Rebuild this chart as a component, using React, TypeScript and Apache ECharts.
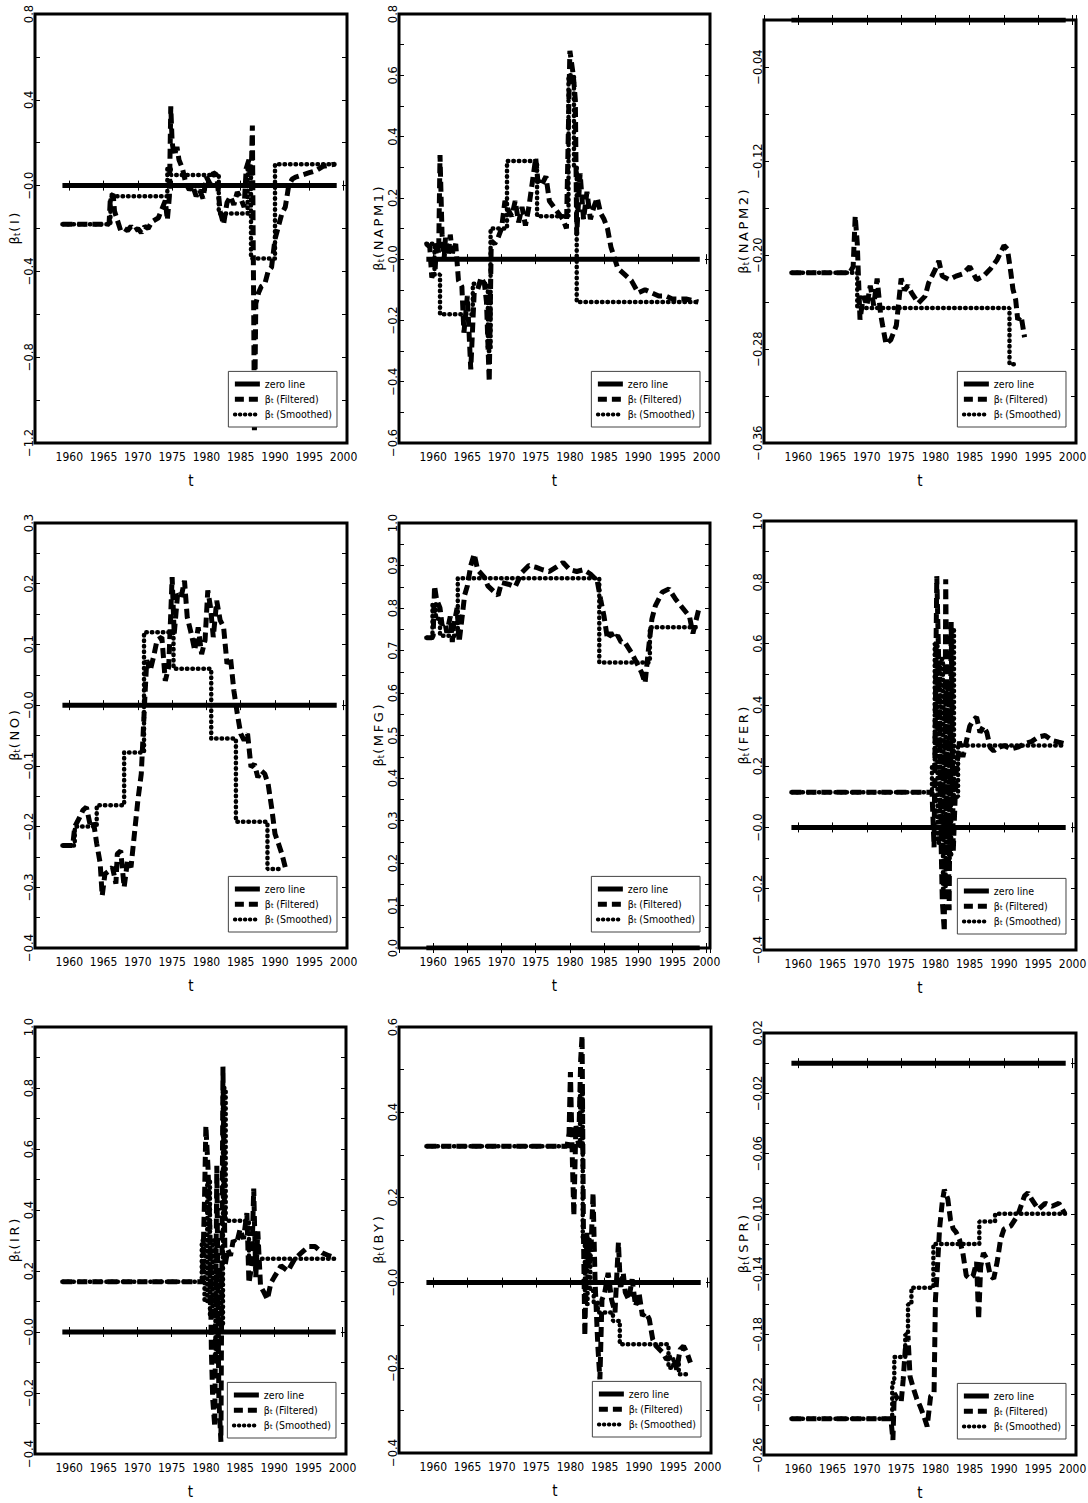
import React, { useEffect, useRef } from "react";
import * as echarts from "echarts";

// ---------------- data ----------------
const zeroLine = [[1959, 0], [1999, 0]];
const xTickLabels = [1960, 1965, 1970, 1975, 1980, 1985, 1990, 1995, 2000];

const filteredI = [[1959,-0.18],[1965.8,-0.18],[1966,-0.05],[1966.4,-0.04],[1966.6,-0.12],[1967,-0.16],[1967.5,-0.21],[1968,-0.2],[1968.5,-0.21],[1969,-0.19],[1969.5,-0.21],[1970,-0.2],[1970.5,-0.22],[1971,-0.19],[1971.5,-0.2],[1972,-0.17],[1972.5,-0.16],[1973,-0.15],[1973.5,-0.11],[1974,-0.07],[1974.3,-0.16],[1974.6,-0.05],[1974.8,0.37],[1975,0.2],[1975.3,0.14],[1975.7,0.18],[1976,0.12],[1976.5,0.08],[1977,0.01],[1977.5,-0.02],[1978,0.0],[1978.5,-0.05],[1979,-0.02],[1979.5,-0.06],[1980,0.04],[1980.5,0.01],[1981,0.06],[1981.5,0.05],[1982,-0.12],[1982.5,-0.18],[1983,-0.08],[1983.5,-0.05],[1984,-0.09],[1984.5,-0.03],[1985,-0.06],[1985.5,-0.1],[1985.8,0.08],[1986.2,0.12],[1986.5,0.0],[1986.7,0.28],[1986.9,-0.6],[1987,-1.15],[1987.2,-0.55],[1987.6,-0.5],[1988,-0.47],[1988.5,-0.46],[1989,-0.4],[1989.5,-0.38],[1990,-0.25],[1990.5,-0.19],[1991,-0.13],[1991.5,-0.1],[1992,0.0],[1992.5,0.03],[1993,0.04],[1994,0.05],[1995,0.06],[1996,0.07],[1997,0.09],[1998.8,0.1]];
const smoothedI = [[1959,-0.18],[1966,-0.05],[1974.3,0.08],[1974.8,0.05],[1981.8,-0.13],[1986,0.1],[1986.5,-0.34],[1990,0.1],[1998.8,0.1]];

const filteredNAPM1 = [[1959,0.05],[1959.5,0.04],[1959.8,-0.06],[1960.3,-0.03],[1960.5,0.06],[1960.8,0.02],[1961,0.34],[1961.3,0.08],[1961.6,0.0],[1961.8,0.07],[1962.2,0.01],[1962.5,0.08],[1962.8,0.02],[1963.3,0.05],[1963.7,-0.07],[1964.2,-0.09],[1964.5,-0.24],[1965,-0.12],[1965.5,-0.36],[1966,-0.11],[1966.5,-0.1],[1967,-0.06],[1967.5,-0.08],[1967.8,-0.14],[1968.2,-0.4],[1968.5,0.06],[1969,0.05],[1969.5,0.07],[1970,0.1],[1970.5,0.19],[1971,0.16],[1971.5,0.14],[1972,0.19],[1972.5,0.12],[1973,0.17],[1973.5,0.11],[1974,0.17],[1974.5,0.25],[1975,0.33],[1975.3,0.26],[1975.8,0.24],[1976.5,0.27],[1977,0.19],[1978,0.16],[1979,0.13],[1979.5,0.1],[1980,0.68],[1980.5,0.6],[1980.8,0.52],[1981,0.08],[1981.5,0.28],[1982,0.13],[1982.5,0.22],[1983,0.13],[1983.5,0.17],[1984,0.2],[1984.5,0.15],[1985,0.13],[1985.5,0.1],[1986,0.04],[1987,-0.03],[1988,-0.05],[1989,-0.07],[1990,-0.11],[1991,-0.1],[1992,-0.11],[1993,-0.12],[1994,-0.12],[1995,-0.13],[1997,-0.13],[1998.8,-0.14]];
const smoothedNAPM1 = [[1959,0.05],[1960.2,-0.05],[1961,-0.18],[1965.8,-0.08],[1968,-0.3],[1968.4,0.1],[1970.8,0.32],[1975.2,0.14],[1979.8,0.6],[1980.6,0.3],[1981,-0.14],[1998.8,-0.14]];

const filteredNAPM2 = [[1959,-0.215],[1967.5,-0.215],[1968,-0.21],[1968.3,-0.167],[1968.6,-0.19],[1969,-0.255],[1969.5,-0.235],[1970,-0.243],[1970.5,-0.226],[1971,-0.243],[1971.5,-0.22],[1972,-0.25],[1972.3,-0.26],[1972.8,-0.276],[1973.5,-0.272],[1974.3,-0.26],[1975,-0.22],[1975.5,-0.23],[1976,-0.226],[1976.5,-0.232],[1977.5,-0.241],[1978.5,-0.235],[1979,-0.224],[1980,-0.212],[1980.5,-0.205],[1981,-0.218],[1982,-0.221],[1983,-0.218],[1984,-0.216],[1985,-0.21],[1986,-0.221],[1987,-0.218],[1988,-0.212],[1989,-0.204],[1990,-0.192],[1990.5,-0.195],[1991,-0.215],[1991.3,-0.229],[1991.7,-0.238],[1992,-0.255],[1992.5,-0.252],[1993,-0.27]];
const smoothedNAPM2 = [[1959,-0.215],[1968.6,-0.245],[1990.8,-0.293],[1991.5,-0.293]];

const filteredNO = [[1959,-0.231],[1960.5,-0.231],[1960.8,-0.2],[1961.5,-0.185],[1962,-0.173],[1962.5,-0.168],[1963,-0.195],[1963.5,-0.19],[1964,-0.228],[1964.5,-0.26],[1964.8,-0.314],[1965.2,-0.278],[1965.8,-0.273],[1966.3,-0.267],[1966.8,-0.294],[1967,-0.245],[1967.5,-0.24],[1968,-0.3],[1968.5,-0.256],[1969,-0.267],[1969.5,-0.212],[1970,-0.157],[1970.5,-0.113],[1971,0.008],[1971.3,0.074],[1971.8,0.057],[1972.3,0.08],[1972.8,0.107],[1973.5,0.112],[1974,0.04],[1974.5,0.063],[1975,0.211],[1975.3,0.117],[1975.8,0.183],[1976.3,0.177],[1976.8,0.205],[1977.2,0.145],[1977.8,0.117],[1978.3,0.09],[1978.8,0.128],[1979.3,0.084],[1979.8,0.107],[1980.2,0.189],[1980.6,0.161],[1981,0.112],[1981.5,0.172],[1982,0.14],[1982.5,0.129],[1983,0.068],[1983.5,0.079],[1984,0.024],[1984.5,-0.014],[1985,-0.047],[1985.5,-0.058],[1986,-0.047],[1986.5,-0.102],[1987,-0.097],[1987.5,-0.119],[1988,-0.108],[1988.5,-0.113],[1989,-0.13],[1989.5,-0.168],[1990,-0.212],[1990.5,-0.228],[1991,-0.245],[1991.5,-0.267]];
const smoothedNO = [[1959,-0.231],[1960.8,-0.2],[1964,-0.165],[1968,-0.078],[1970.9,0.12],[1975.2,0.06],[1980.7,-0.055],[1984.3,-0.192],[1988.9,-0.27],[1991.2,-0.27]];

const filteredMFG = [[1959,0.73],[1959.8,0.73],[1960,0.735],[1960.2,0.852],[1960.5,0.82],[1961,0.8],[1961.3,0.76],[1961.7,0.766],[1962,0.742],[1962.5,0.78],[1962.8,0.72],[1963,0.758],[1963.5,0.8],[1963.8,0.72],[1964.2,0.774],[1964.6,0.83],[1965,0.852],[1965.5,0.9],[1966,0.927],[1966.5,0.89],[1967.5,0.872],[1968,0.852],[1969,0.837],[1969.5,0.83],[1970,0.86],[1971,0.856],[1972,0.85],[1973,0.884],[1974,0.9],[1975,0.896],[1976,0.89],[1977,0.886],[1978,0.896],[1979,0.907],[1980,0.89],[1981,0.886],[1982,0.89],[1983,0.88],[1984,0.864],[1984.5,0.82],[1985,0.78],[1985.5,0.727],[1986,0.742],[1986.5,0.727],[1987,0.735],[1987.5,0.72],[1988,0.72],[1989,0.695],[1990,0.664],[1990.5,0.648],[1991,0.624],[1991.5,0.703],[1992,0.774],[1992.5,0.805],[1993.5,0.837],[1994.5,0.845],[1995.5,0.82],[1996.5,0.8],[1997.5,0.78],[1998,0.74],[1998.5,0.774],[1998.9,0.8]];
const smoothedMFG = [[1959,0.73],[1959.9,0.81],[1960.4,0.775],[1961,0.735],[1963.6,0.87],[1984.3,0.672],[1991.7,0.755],[1998.9,0.755]];

const filteredFER = [[1959,0.115],[1979.5,0.115],[1979.8,-0.065],[1980,0.41],[1980.2,0.82],[1980.5,0.52],[1980.8,-0.02],[1981,-0.24],[1981.3,-0.34],[1981.5,0.81],[1981.7,0.31],[1982,-0.27],[1982.3,0.67],[1982.6,-0.08],[1983,0.175],[1983.5,0.28],[1984,0.23],[1984.5,0.28],[1985,0.33],[1985.5,0.35],[1986,0.36],[1986.5,0.31],[1987,0.33],[1987.5,0.31],[1988,0.26],[1988.5,0.25],[1989,0.26],[1990,0.267],[1991,0.256],[1992,0.262],[1993,0.273],[1994,0.28],[1995,0.295],[1996,0.3],[1997,0.284],[1998,0.278],[1998.9,0.273]];
const smoothedFER = [[1959,0.115],[1979.5,0.2],[1979.9,0.6],[1980.3,-0.05],[1980.7,0.55],[1981.1,-0.2],[1981.5,0.45],[1981.9,-0.1],[1982.3,0.65],[1982.7,0.1],[1983.3,0.267],[1998.9,0.267]];

const filteredIR = [[1959,0.165],[1979.5,0.165],[1979.8,0.435],[1980,0.676],[1980.3,0.545],[1980.6,0.33],[1980.8,-0.057],[1981,-0.22],[1981.3,-0.31],[1981.6,0.545],[1981.9,-0.22],[1982.2,-0.36],[1982.5,0.87],[1982.8,0.217],[1983.2,0.27],[1983.6,0.25],[1984,0.3],[1984.5,0.29],[1985,0.337],[1985.5,0.305],[1986,0.39],[1986.3,0.16],[1986.7,0.217],[1987,0.47],[1987.3,0.18],[1987.6,0.33],[1988,0.15],[1988.5,0.13],[1989,0.107],[1989.5,0.16],[1990,0.18],[1991,0.217],[1992,0.2],[1993,0.24],[1994,0.26],[1995,0.28],[1996,0.28],[1997,0.26],[1998,0.25],[1998.9,0.244]];
const smoothedIR = [[1959,0.165],[1979.4,0.3],[1979.8,0.1],[1980.2,0.5],[1980.6,0.05],[1981,0.3],[1981.4,-0.1],[1981.8,0.2],[1982.2,0.02],[1982.5,0.8],[1982.9,0.365],[1986.3,0.24],[1998.9,0.24]];

const filteredBY = [[1959,0.32],[1979.5,0.32],[1979.8,0.35],[1980,0.494],[1980.3,0.275],[1980.5,0.157],[1980.8,0.37],[1981.2,0.32],[1981.5,0.525],[1981.7,0.58],[1981.9,0.118],[1982.1,-0.125],[1982.4,0.118],[1982.7,0.04],[1983,0.08],[1983.3,0.21],[1983.6,0.0],[1984,-0.15],[1984.3,-0.227],[1984.6,-0.04],[1985,-0.024],[1985.5,0.023],[1986,-0.04],[1986.5,-0.07],[1987,0.094],[1987.3,-0.016],[1987.7,0.023],[1988,-0.023],[1988.5,-0.04],[1989,0.008],[1989.5,-0.055],[1990,-0.024],[1990.5,-0.078],[1991,-0.07],[1991.5,-0.086],[1992,-0.133],[1992.5,-0.149],[1993,-0.157],[1993.5,-0.165],[1994,-0.18],[1995,-0.173],[1995.5,-0.204],[1996,-0.157],[1996.5,-0.149],[1997,-0.165],[1997.5,-0.188]];
const smoothedBY = [[1959,0.32],[1981.4,0.45],[1981.8,0.1],[1982.1,-0.05],[1982.5,0.1],[1982.9,-0.02],[1983.4,-0.047],[1984,-0.07],[1986.2,-0.09],[1987.2,-0.145],[1994.3,-0.2],[1995,-0.18],[1995.8,-0.215],[1997.5,-0.215]];

const filteredSPR = [[1959,-0.236],[1973.5,-0.236],[1973.8,-0.25],[1974,-0.219],[1974.5,-0.223],[1975,-0.225],[1975.3,-0.21],[1975.6,-0.19],[1976,-0.181],[1976.3,-0.208],[1976.8,-0.216],[1977.3,-0.223],[1977.8,-0.228],[1978.3,-0.234],[1978.8,-0.241],[1979.3,-0.221],[1979.8,-0.219],[1980,-0.157],[1980.3,-0.135],[1980.6,-0.11],[1981,-0.092],[1981.3,-0.084],[1981.8,-0.09],[1982.2,-0.104],[1982.6,-0.11],[1983,-0.112],[1983.5,-0.117],[1984,-0.126],[1984.5,-0.141],[1985,-0.143],[1985.5,-0.141],[1986,-0.132],[1986.3,-0.17],[1986.6,-0.135],[1987,-0.126],[1987.5,-0.13],[1988,-0.141],[1988.5,-0.143],[1989,-0.132],[1989.5,-0.117],[1990,-0.11],[1991,-0.108],[1992,-0.101],[1993,-0.088],[1993.5,-0.086],[1994,-0.09],[1995,-0.097],[1996,-0.093],[1997,-0.095],[1998,-0.093],[1998.9,-0.1]];
const smoothedSPR = [[1959,-0.236],[1973.7,-0.212],[1974,-0.195],[1975.6,-0.18],[1976,-0.16],[1976.5,-0.149],[1979.7,-0.12],[1986.4,-0.105],[1988.7,-0.1],[1998.9,-0.1]];

const variableNames = ["I", "NAPM1", "NAPM2", "NO", "MFG", "FER", "IR", "BY", "SPR"];
const filteredSeries = [filteredI, filteredNAPM1, filteredNAPM2, filteredNO, filteredMFG, filteredFER, filteredIR, filteredBY, filteredSPR];
const smoothedSeries = [smoothedI, smoothedNAPM1, smoothedNAPM2, smoothedNO, smoothedMFG, smoothedFER, smoothedIR, smoothedBY, smoothedSPR];
const yMins = [-1.2, -0.6, -0.36, -0.4, 0, -0.4, -0.4, -0.4, -0.26];
const yMaxs = [0.8, 0.8, 0, 0.3, 1.0, 1.0, 1.0, 0.6, 0.02];
const yTickSteps = [0.2, 0.1, 0.04, 0.05, 0.05, 0.1, 0.1, 0.1, 0.02];
const yTickLabels = [
  [-1.2, -0.8, -0.4, 0, 0.4, 0.8],
  [-0.6, -0.4, -0.2, 0, 0.2, 0.4, 0.6, 0.8],
  [-0.36, -0.28, -0.2, -0.12, -0.04],
  [-0.4, -0.3, -0.2, -0.1, 0, 0.1, 0.2, 0.3],
  [0, 0.1, 0.2, 0.3, 0.4, 0.5, 0.6, 0.7, 0.8, 0.9, 1.0],
  [-0.4, -0.2, 0, 0.2, 0.4, 0.6, 0.8, 1.0],
  [-0.4, -0.2, 0, 0.2, 0.4, 0.6, 0.8, 1.0],
  [-0.4, -0.2, 0, 0.2, 0.4, 0.6],
  [-0.26, -0.22, -0.18, -0.14, -0.1, -0.06, -0.02, 0.02],
];
const yDecimals = [1, 1, 2, 1, 1, 1, 1, 1, 2];
const zeroLabels = ["−0.0", "−0.0", "−0.00", "−0.0", "0.0", "−0.0", "−0.0", "−0.0", "−0.00"];

// ---------------- layout ----------------
const gridBoxes = [
  { left: 35, top: 14, right: 347, bottom: 443 },
  { left: 399, top: 14, right: 710, bottom: 443 },
  { left: 764, top: 20, right: 1076, bottom: 443 },
  { left: 35, top: 523, right: 347, bottom: 948 },
  { left: 399, top: 523, right: 710, bottom: 948 },
  { left: 764, top: 521, right: 1076, bottom: 950 },
  { left: 35, top: 1027, right: 346, bottom: 1454 },
  { left: 399, top: 1027, right: 711, bottom: 1453 },
  { left: 764, top: 1033, right: 1076, bottom: 1455 },
];

const W = 1088;
const H = 1503;
const NARROW = "'Liberation Sans Narrow', 'DejaVu Sans Condensed', 'Arial Narrow', sans-serif";
const WIDE = "'DejaVu Sans', 'Liberation Sans', sans-serif";

const FILTERED_STYLE = { color: "#000", width: 5, type: [10, 5], cap: "butt" };
const SMOOTHED_STYLE = { color: "#000", width: 4.5, type: [0.5, 5], cap: "round" };
const ZERO_STYLE = { color: "#000", width: 5, type: "solid" };

const spaced = (s: string) => s.split("").join("\u2009");

function fmtY(v: number, dec: number, zeroStr: string) {
  if (Math.abs(v) < 1e-9) return zeroStr;
  const s = Math.abs(v).toFixed(dec);
  return v < 0 ? "−" + s : s;
}

function buildOption() {
  const grid: any[] = [];
  const xAxis: any[] = [];
  const yAxis: any[] = [];
  const series: any[] = [];
  const legend: any[] = [];

  variableNames.forEach((name, i) => {
    const b = gridBoxes[i];
    grid.push({
      left: b.left,
      top: b.top,
      width: b.right - b.left,
      height: b.bottom - b.top,
      show: true,
      borderColor: "#000",
      borderWidth: 3,
      backgroundColor: "#fff",
      outerBoundsMode: "none",
    });

    const xCommon = {
      type: "value",
      gridIndex: i,
      min: 1955,
      max: 2000.5,
      interval: 5,
      splitLine: { show: false },
      axisLine: { show: false },
      axisTick: { show: true, inside: true, length: 5, lineStyle: { color: "#000", width: 1 } },
    };
    xAxis.push({
      ...xCommon,
      position: "bottom",
      name: "t",
      nameLocation: "middle",
      nameGap: 30,
      nameTextStyle: { fontFamily: NARROW, fontSize: 15, color: "#000" },
      axisLabel: {
        show: true,
        margin: 8,
        color: "#000",
        fontFamily: NARROW,
        fontSize: 12,
        formatter: (v: number) => (xTickLabels.some((t) => Math.abs(t - v) < 1e-6) ? String(v) : ""),
      },
    });
    xAxis.push({ ...xCommon, position: "top", axisLabel: { show: false } });

    const yCommon = {
      type: "value",
      gridIndex: i,
      min: yMins[i],
      max: yMaxs[i],
      interval: yTickSteps[i],
      splitLine: { show: false },
      axisLine: { show: false },
      axisTick: { show: true, inside: true, length: 5, lineStyle: { color: "#000", width: 1 } },
    };
    const labels = yTickLabels[i];
    yAxis.push({
      ...yCommon,
      position: "left",
      name: "{b|β}{s|t}" + spaced("(" + name + ")"),
      nameLocation: "middle",
      nameRotate: 90,
      nameGap: 14,
      nameMoveOverlap: false,
      nameTextStyle: {
        fontFamily: WIDE,
        fontSize: 13,
        color: "#000",
        rich: {
          b: { fontFamily: WIDE, fontSize: 13, color: "#000" },
          s: { fontFamily: WIDE, fontSize: 8.5, color: "#000", verticalAlign: "bottom", padding: [5, 1, 0, 0] },
        },
      },
      axisLabel: {
        show: true,
        rotate: 90,
        margin: 0,
        color: "#000",
        fontFamily: WIDE,
        fontSize: 11.5,
        formatter: (v: number) =>
          labels.some((t) => Math.abs(t - v) < 1e-6) ? fmtY(v, yDecimals[i], zeroLabels[i]) : "",
      },
    });
    yAxis.push({ ...yCommon, position: "right", axisLabel: { show: false } });

    series.push({
      name: "zero line",
      type: "line",
      xAxisIndex: 2 * i,
      yAxisIndex: 2 * i,
      data: zeroLine,
      symbol: "none",
      silent: true,
      lineStyle: ZERO_STYLE,
      z: 3,
    });
    series.push({
      name: "Filtered",
      type: "line",
      xAxisIndex: 2 * i,
      yAxisIndex: 2 * i,
      data: filteredSeries[i],
      symbol: "none",
      silent: true,
      lineStyle: FILTERED_STYLE,
      z: 4,
    });
    series.push({
      name: "Smoothed",
      type: "line",
      step: "end",
      xAxisIndex: 2 * i,
      yAxisIndex: 2 * i,
      data: smoothedSeries[i],
      symbol: "none",
      silent: true,
      lineStyle: SMOOTHED_STYLE,
      z: 5,
    });

    legend.push({
      orient: "vertical",
      right: W - (b.right - 10),
      bottom: H - (b.bottom - 16),
      selectedMode: false,
      itemWidth: 25,
      itemHeight: 14,
      itemGap: 4,
      padding: [7, 5, 7, 4],
      borderColor: "#444",
      borderWidth: 1,
      backgroundColor: "#fff",
      itemStyle: { opacity: 0 },
      textStyle: {
        fontFamily: NARROW,
        fontSize: 10.5,
        color: "#000",
        rich: {
          b: { fontFamily: NARROW, fontSize: 10.5, color: "#000" },
          s: { fontFamily: NARROW, fontSize: 7, color: "#000", verticalAlign: "bottom", padding: [4, 0, 0, 0] },
          n: { fontFamily: NARROW, fontSize: 10.5, color: "#000" },
        },
      },
      formatter: (n: string) => (n === "zero line" ? "{n|zero line}" : "{b|β}{s|t}{n| (" + n + ")}"),
      data: [
        { name: "zero line", lineStyle: { color: "#000", width: 5, type: "solid" } },
        { name: "Filtered", lineStyle: { color: "#000", width: 5, type: [9, 5] } },
        { name: "Smoothed", lineStyle: { color: "#000", width: 4, type: [0.5, 4.5], cap: "round" } },
      ],
      z: 10,
    });
  });

  return {
    animation: false,
    backgroundColor: "#fff",
    grid,
    xAxis,
    yAxis,
    series,
    legend,
  };
}

export default function App() {
  const ref = useRef<HTMLDivElement>(null);
  useEffect(() => {
    if (!ref.current) return;
    const chart = echarts.init(ref.current, undefined, { renderer: "svg" });
    chart.setOption(buildOption() as any);
    return () => chart.dispose();
  }, []);
  return (
    <div
      ref={ref}
      style={{ position: "absolute", left: 0, top: 0, width: W, height: H, background: "#fff" }}
    />
  );
}
